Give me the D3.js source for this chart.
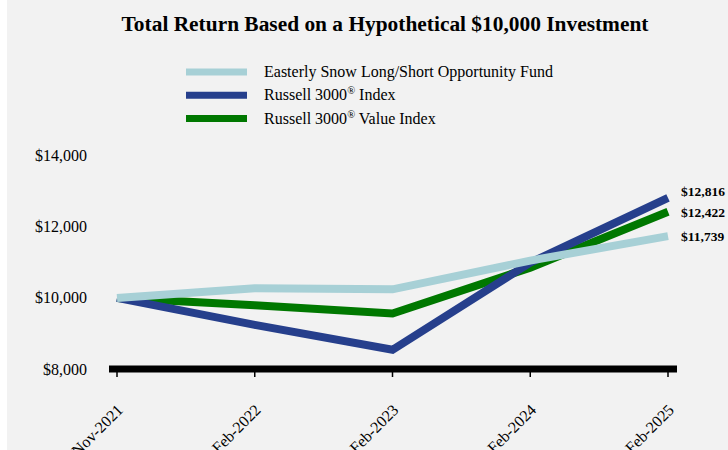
<!DOCTYPE html>
<html lang="en">
<head>
    <meta charset="UTF-8">
    <title>Total Return Based on a Hypothetical $10,000 Investment</title>
    <script src="https://cdnjs.cloudflare.com/ajax/libs/d3/7.8.5/d3.min.js"></script>
    <style>
        body, html {
            margin: 0;
            padding: 0;
            background: #fff;
            font-family: "Liberation Serif", "Times New Roman", serif;
        }
        #chart {
            width: 728px;
            height: 450px;
        }
    </style>
</head>
<body>
    <div id="chart"></div>

    <script>
        const categories = ["Nov-2021", "Feb-2022", "Feb-2023", "Feb-2024", "Feb-2025"];
        const seriesNames = ["Easterly Snow Long/Short Opportunity Fund", "Russell 3000® Index", "Russell 3000® Value Index"];
        const fundValues = [10000, 10270, 10240, 11050, 11739];
        const russellValues = [10000, 9240, 8540, 10990, 12816];
        const valueIndexValues = [10000, 9790, 9560, 10850, 12422];
        const yTicks = [8000, 10000, 12000, 14000];

        const colors = ["#A7D0D6", "#263F8C", "#007800"];
        const allSeries = [fundValues, russellValues, valueIndexValues];

        const width = 728, height = 450;

        const svg = d3.select("#chart")
            .append("svg")
            .attr("width", width)
            .attr("height", height);

        svg.append("rect")
            .attr("x", 7).attr("y", 0)
            .attr("width", width - 7).attr("height", height)
            .attr("fill", "#F2F2F2");

        svg.append("text")
            .attr("x", 385).attr("y", 31)
            .attr("text-anchor", "middle")
            .style("font-size", "21.4px")
            .style("font-weight", "bold")
            .text("Total Return Based on a Hypothetical $10,000 Investment");

        const x = d3.scalePoint().domain(categories).range([117, 668]);
        const y = d3.scaleLinear().domain([8000, 14000]).range([369, 155.7]);

        // legend
        const legend = svg.append("g");
        seriesNames.forEach((name, i) => {
            const ly = 72 + i * 23.3;
            legend.append("line")
                .attr("x1", 186).attr("x2", 247)
                .attr("y1", ly).attr("y2", ly)
                .attr("stroke", colors[i])
                .attr("stroke-width", 7);
            const t = legend.append("text")
                .attr("x", 264).attr("y", ly + 5)
                .style("font-size", "16px");
            const parts = name.split("®");
            t.append("tspan").text(parts[0]);
            if (parts.length > 1) {
                t.append("tspan").attr("dy", -6).style("font-size", "10.5px").text("®");
                t.append("tspan").attr("dy", 6).text(parts[1]);
            }
        });

        // y axis labels
        svg.selectAll(".ylab")
            .data(yTicks)
            .enter()
            .append("text")
            .attr("x", 87)
            .attr("y", d => y(d) + 5.5)
            .attr("text-anchor", "end")
            .style("font-size", "16px")
            .text(d => "$" + d3.format(",")(d));

        // lines: value index first, fund on top
        const line = d3.line()
            .x((d, i) => x(categories[i]))
            .y(d => y(d));

        [2, 1, 0].forEach(i => {
            svg.append("path")
                .datum(allSeries[i])
                .attr("d", line)
                .attr("fill", "none")
                .attr("stroke", colors[i])
                .attr("stroke-width", 8);
        });

        // x axis
        svg.append("line")
            .attr("x1", 109).attr("x2", 677)
            .attr("y1", y(8000)).attr("y2", y(8000))
            .attr("stroke", "#000")
            .attr("stroke-width", 7);

        svg.selectAll(".tick")
            .data(categories)
            .enter()
            .append("line")
            .attr("x1", d => x(d)).attr("x2", d => x(d))
            .attr("y1", y(8000)).attr("y2", y(8000) + 8)
            .attr("stroke", "#000")
            .attr("stroke-width", 1.5);

        svg.selectAll(".xlab")
            .data(categories)
            .enter()
            .append("text")
            .attr("transform", d => `translate(${x(d) + 7},${y(8000) + 42}) rotate(-45)`)
            .attr("text-anchor", "end")
            .style("font-size", "16px")
            .text(d => d);

        // end value labels, spread so they don't overlap
        const last = categories.length - 1;
        const endLabels = allSeries.map((s, i) => ({ v: s[last], y: y(s[last]) + 5 }))
            .sort((a, b) => b.y - a.y);
        for (let i = 1; i < endLabels.length; i++) {
            if (endLabels[i - 1].y - endLabels[i].y < 21) endLabels[i].y = endLabels[i - 1].y - 21;
        }
        svg.selectAll(".endlab")
            .data(endLabels)
            .enter()
            .append("text")
            .attr("x", 681)
            .attr("y", d => d.y)
            .style("font-size", "13.5px")
            .style("font-weight", "bold")
            .text(d => "$" + d3.format(",")(d.v));
    </script>
</body>
</html>
